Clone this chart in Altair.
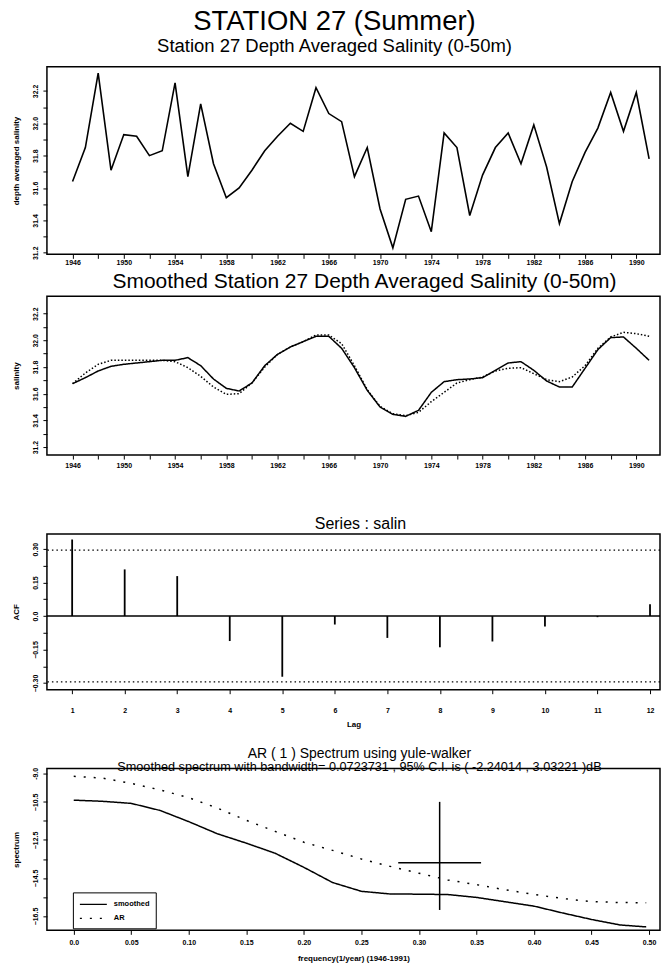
import altair as alt
import pandas as pd

FONT = "Liberation Sans, Arial, Helvetica, sans-serif"

# ---------------- data ----------------
years = list(range(1946, 1992))
salinity = [31.64, 31.85, 32.31, 31.71, 31.93, 31.92, 31.80, 31.83, 32.25, 31.67,
            32.12, 31.75, 31.54, 31.60, 31.71, 31.83, 31.92, 32.00, 31.95, 32.22,
            32.06, 32.01, 31.67, 31.85, 31.47, 31.23, 31.53, 31.55, 31.33, 31.94,
            31.85, 31.43, 31.68, 31.85, 31.94, 31.75, 31.99, 31.73, 31.38, 31.64,
            31.82, 31.97, 32.19, 31.95, 32.19, 31.78]

smooth_solid = [31.675, 31.72, 31.77, 31.805, 31.82, 31.83, 31.84, 31.85, 31.85, 31.87,
                31.81, 31.71, 31.64, 31.62, 31.68, 31.81, 31.895, 31.95, 31.99, 32.03,
                32.03, 31.94, 31.795, 31.625, 31.50, 31.445, 31.43, 31.475, 31.61, 31.69,
                31.705, 31.71, 31.72, 31.775, 31.83, 31.84, 31.775, 31.695, 31.65, 31.65,
                31.79, 31.93, 32.02, 32.025, 31.94, 31.85]
smooth_dotted = [31.675, 31.755, 31.82, 31.85, 31.85, 31.85, 31.85, 31.85, 31.84, 31.795,
                 31.73, 31.65, 31.595, 31.60, 31.68, 31.80, 31.895, 31.95, 31.99, 32.04,
                 32.04, 31.975, 31.81, 31.63, 31.505, 31.45, 31.435, 31.46, 31.54, 31.61,
                 31.68, 31.705, 31.725, 31.77, 31.79, 31.795, 31.75, 31.705, 31.69, 31.725,
                 31.81, 31.94, 32.025, 32.06, 32.05, 32.03]

lags = list(range(1, 13))
acf = [0.343, 0.209, 0.179, -0.112, -0.272, -0.038, -0.098, -0.140, -0.114, -0.047, -0.005, 0.053]
acf_ci = [0.295, -0.295]
acf_zero = [0.0]

freqs = [0.0, 0.025, 0.05, 0.075, 0.10, 0.125, 0.15, 0.175, 0.20, 0.225, 0.25,
         0.275, 0.30, 0.325, 0.35, 0.375, 0.40, 0.425, 0.45, 0.475, 0.4975]
spec_smoothed = [-10.41, -10.47, -10.58, -10.95, -11.54, -12.18, -12.67, -13.20, -13.94, -14.74,
                 -15.20, -15.34, -15.35, -15.37, -15.52, -15.75, -15.98, -16.34, -16.68, -16.97, -17.07]
spec_ar = [-9.16, -9.25, -9.53, -9.87, -10.28, -10.83, -11.47, -12.05, -12.62, -13.05,
           -13.50, -13.89, -14.25, -14.60, -14.85, -15.12, -15.36, -15.58, -15.74, -15.79, -15.80]
series_names = ["smoothed", "AR"]
cross_freq = [0.318]
cross_level = [-13.70]
cross_ci_top = [-10.50]
cross_ci_bottom = [-16.18]
cross_bw_left = [0.282]
cross_bw_right = [0.354]

year_ticks = list(range(1946, 1992, 2))
sal_ticks = [round(31.2 + 0.1 * i, 1) for i in range(11)]
acf_ticks = [round(-0.3 + 0.075 * i, 3) for i in range(9)]
spec_ticks = [-9.0, -10.5, -11.5, -12.5, -13.5, -14.5, -15.5, -16.5]
freq_ticks = [round(0.05 * i, 2) for i in range(11)]

W = 614

AX = dict(domain=False, grid=False, ticks=True, tickColor="black", tickSize=4, tickWidth=1,
          labelColor="black", labelFont=FONT, labelFontSize=7, labelFontWeight="bold",
          titleFont=FONT, titleFontSize=8, titleFontWeight="bold", titleColor="black",
          labelOverlap=False, labelFlush=False)


def yaxis(values, expr, title):
    return alt.Axis(values=values, labelExpr=expr, title=title, labelAngle=270,
                    labelAlign="center", labelBaseline="bottom", labelPadding=4.5,
                    titleAngle=270, titleX=-30, titleBaseline="middle", **AX)


def ptitle(text, size, dx, offset, subtitle=None, subsize=None, subpad=None):
    kw = dict(text=text, font=FONT, fontSize=size, fontWeight="normal", color="black",
              anchor="middle", frame="group", dx=dx, offset=offset)
    if subtitle is not None:
        kw.update(subtitle=subtitle, subtitleFont=FONT, subtitleFontSize=subsize,
                  subtitleColor="black", subtitleFontWeight="normal", subtitlePadding=subpad)
    return alt.TitleParams(**kw)


yr_scale = alt.Scale(domain=[1944.0, 1991.85], nice=False, zero=False)


def yr_axis(pad):
    return alt.Axis(values=year_ticks, format="d", labelExpr="datum.value % 4 == 2 ? datum.label : ''",
                    title=None, labelPadding=pad, **AX)


sal_expr = "round(datum.value*10) % 2 == 0 ? format(datum.value, '.1f') : ''"

# ---------------- panel 1 ----------------
df1 = pd.DataFrame({"year": years, "sal": salinity})
p1 = alt.Chart(df1).mark_line(color="black", strokeWidth=1.6).encode(
    x=alt.X("year:Q", scale=yr_scale, axis=yr_axis(0)),
    y=alt.Y("sal:Q", scale=alt.Scale(domain=[31.19, 32.35], nice=False, zero=False),
            axis=yaxis(sal_ticks, sal_expr, "depth averaged salinity")),
).properties(width=W, height=188,
             title=ptitle("STATION 27 (Summer)", 27.5, -19, 11,
                          subtitle="Station 27 Depth Averaged Salinity (0-50m)", subsize=18.5, subpad=2))

# ---------------- panel 2 ----------------
df2 = pd.DataFrame({"year": years * 2, "sal": smooth_solid + smooth_dotted,
                    "kind": ["a"] * len(years) + ["b"] * len(years)})
p2 = alt.Chart(df2).mark_line(color="black", strokeWidth=1.5).encode(
    x=alt.X("year:Q", scale=yr_scale, axis=yr_axis(2.5)),
    y=alt.Y("sal:Q", scale=alt.Scale(domain=[31.14, 32.33], nice=False, zero=False),
            axis=yaxis(sal_ticks, sal_expr, "salinity")),
    strokeDash=alt.StrokeDash("kind:N", scale=alt.Scale(domain=["a", "b"], range=[[1, 0], [1.5, 2]]),
                              legend=None),
).properties(width=W, height=159,
             title=ptitle("Smoothed Station 27 Depth Averaged Salinity (0-50m)", 21, 11, 4))

# ---------------- panel 3 ----------------
acf_expr = ("abs(round(datum.value*1000) % 150) < 1 ? "
            "(abs(datum.value) < 0.001 ? '0.0' : format(datum.value, '.2f')) : ''")
acf_y = alt.Y("acf:Q", scale=alt.Scale(domain=[-0.33, 0.368], nice=False, zero=False),
              axis=yaxis(acf_ticks, acf_expr, "ACF"))
df3 = pd.DataFrame({"lag": lags, "acf": acf, "zero": [acf_zero[0]] * len(lags)})
bars = alt.Chart(df3).mark_rule(color="black", strokeWidth=1.8).encode(
    x=alt.X("lag:Q", scale=alt.Scale(domain=[0.52, 12.19], nice=False, zero=False),
            axis=alt.Axis(values=lags, format="d", title="Lag", labelPadding=12.5,
                          titleY=35, titleBaseline="middle", **AX)),
    y=acf_y,
    y2="zero:Q",
)
zero_line = alt.Chart(pd.DataFrame({"acf": acf_zero})).mark_rule(color="black", strokeWidth=1.5).encode(
    y=acf_y)
ci_lines = alt.Chart(pd.DataFrame({"acf": acf_ci})).mark_rule(
    color="black", strokeWidth=1.2, strokeDash=[1.5, 3]).encode(y=acf_y)
p3 = alt.layer(bars, zero_line, ci_lines).properties(
    width=W, height=156, title=ptitle("Series : salin", 16, 7, 2))

# ---------------- panel 4 ----------------
n = len(freqs)
df4 = pd.DataFrame({"freq": freqs * 2, "spec": spec_smoothed + spec_ar,
                    "series": [series_names[0]] * n + [series_names[1]] * n})
spec_expr = ("datum.value == -9 ? '-9.0' : "
             "(abs(round(datum.value*2)) % 4 == 1 ? format(datum.value, '.1f') : '')")
spec_x = alt.X("freq:Q", scale=alt.Scale(domain=[-0.0233, 0.5095], nice=False, zero=False),
               axis=alt.Axis(values=freq_ticks, title="frequency(1/year)   (1946-1991)",
                             labelExpr="datum.value == 0 ? '0.0' : format(datum.value, '.2f')",
                             labelPadding=4.5, titleY=28, titleBaseline="middle", **AX))
spec_y = alt.Y("spec:Q", scale=alt.Scale(domain=[-17.25, -8.75], nice=False, zero=False),
               axis=yaxis(spec_ticks, spec_expr, "spectrum"))
leg = alt.Legend(title=None, orient="none", legendX=26, legendY=124, direction="vertical",
                 strokeColor="black", fillColor="white", padding=6, symbolType="M-1,0L4.4,0",
                 symbolSize=100, symbolStrokeWidth=1.2, symbolStrokeColor="black",
                 labelFont=FONT, labelFontSize=7.5, labelFontWeight="bold", labelColor="black",
                 labelOffset=23, rowPadding=4)
lines4 = alt.Chart(df4).mark_line(color="black", strokeWidth=1.5).encode(
    x=spec_x,
    y=spec_y,
    strokeDash=alt.StrokeDash("series:N", scale=alt.Scale(domain=series_names, range=[[1, 0], [2, 8]]),
                              legend=leg),
)
cross_v = alt.Chart(pd.DataFrame({"freq": cross_freq, "spec": cross_ci_top, "spec2": cross_ci_bottom})).mark_rule(
    color="black", strokeWidth=1.5).encode(x=spec_x, y=spec_y, y2="spec2:Q")
cross_h = alt.Chart(pd.DataFrame({"freq": cross_bw_left, "freq2": cross_bw_right, "spec": cross_level})).mark_rule(
    color="black", strokeWidth=1.5).encode(x=spec_x, x2="freq2:Q", y=spec_y)
p4 = alt.layer(lines4, cross_v, cross_h).properties(
    width=W, height=162,
    title=ptitle("AR ( 1 ) Spectrum  using  yule-walker", 14, 6, -6.5,
                 subtitle="Smoothed spectrum with bandwidth= 0.0723731 , 95% C.I. is ( -2.24014 , 3.03221 )dB",
                 subsize=12.7, subpad=0.5))


def spacer(h):
    return alt.Chart(pd.DataFrame({"s": [0]})).mark_point(opacity=0).properties(
        width=W, height=h, view=alt.ViewBackground(strokeOpacity=0))


chart = alt.vconcat(p1, spacer(42), p2, spacer(79), p3, spacer(79), p4,
                    spacing=0, bounds="flush").resolve_scale(
    strokeDash="independent"
).resolve_legend(
    strokeDash="independent"
).properties(
    padding={"left": 12, "top": 6, "right": 0, "bottom": 0}
).configure(background="white").configure_view(
    stroke="black", strokeWidth=1.5
).configure_axis(labelOverlap=False)

chart.save("out.html", embed_options={"renderer": "svg", "actions": False})
